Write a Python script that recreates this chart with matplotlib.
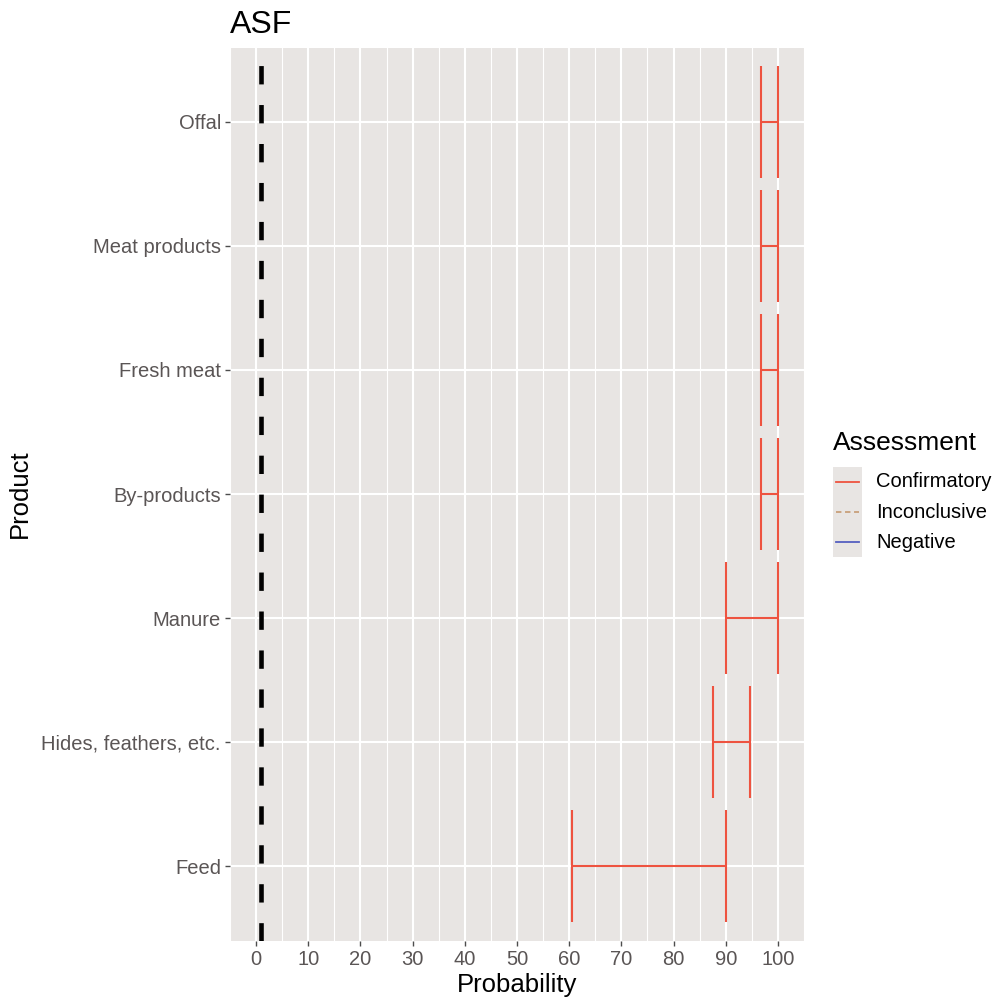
import matplotlib
matplotlib.use("Agg")
import matplotlib.pyplot as plt
from matplotlib.lines import Line2D
from matplotlib.patches import Rectangle

plt.rcParams['font.family'] = ['Liberation Sans', 'DejaVu Sans']

# data
products = ["Feed", "Hides, feathers, etc.", "Manure", "By-products",
            "Fresh meat", "Meat products", "Offal"]
lower = [60.5, 87.5, 90, 96.8, 96.8, 96.8, 96.8]
upper = [90, 94.6, 100, 100, 100, 100, 100]
assessment = ["Confirmatory"] * 7
threshold = 1

levels = ["Confirmatory", "Inconclusive", "Negative"]
colors = {"Confirmatory": "#EE5340", "Inconclusive": "#C8A07A", "Negative": "#5560C0"}
styles = {"Confirmatory": "-", "Inconclusive": (0, (3, 2)), "Negative": "-"}

W, H = 993, 998
fig = plt.figure(figsize=(W / 100, H / 100), dpi=100)
ax = fig.add_axes([0.2316, 0.0576, 0.8097 - 0.2316, 0.9524 - 0.0576])
panel = "#E8E5E3"
ax.set_facecolor(panel)

ypos = list(range(1, len(products) + 1))

# grid
for x in range(-5, 106, 10):
    ax.axvline(x, color="white", lw=0.8, zorder=0)
for x in range(0, 101, 10):
    ax.axvline(x, color="white", lw=1.5, zorder=0)
for y in ypos:
    ax.axhline(y, color="white", lw=1.5, zorder=0)

# error bars
h = 0.9
for y, lo, hi, a in zip(ypos, lower, upper, assessment):
    c = colors[a]
    ax.hlines(y, lo, hi, color=c, lw=1.5, zorder=2)
    ax.vlines([lo, hi], y - h / 2, y + h / 2, color=c, lw=1.5, zorder=2)

ax.axvline(threshold, color="black", lw=3.3, linestyle=(0, (4, 4.5)), zorder=3)

ax.set_xlim(-5, 105)
ax.set_ylim(0.4, len(products) + 0.6)
ax.set_xticks(range(0, 101, 10))
ax.set_yticks(ypos)
ax.set_yticklabels(products)
for s in ax.spines.values():
    s.set_visible(False)
ax.tick_params(axis="both", labelsize=14.5, labelcolor="#5a5555", color="#4d4d4d",
               length=3.5, width=1, pad=3)

fig.text(0.2316, 0.967, "ASF", fontsize=23, ha="left", va="baseline")
fig.text(0.5207, 0.006, "Probability", fontsize=18.5, ha="center", va="baseline")
fig.text(0.0205, 0.505, "Product", fontsize=18.5, ha="center", va="center", rotation=90)

# legend, ggplot style with grey key background
def fx(px):
    return px / W

def fy(py):
    return 1 - py / H

fig.text(fx(833), fy(443), "Assessment", fontsize=19, ha="left", va="center")
fig.add_artist(Rectangle((fx(833), fy(557)), fx(862) - fx(833), fy(467) - fy(557),
                         transform=fig.transFigure, facecolor=panel, edgecolor="none"))
rows = [482, 512, 542]
for lvl, ry in zip(levels, rows):
    fig.add_artist(Line2D([fx(836), fx(859)], [fy(ry), fy(ry)], transform=fig.transFigure,
                          color=colors[lvl], linestyle=styles[lvl], lw=1.3))
    fig.text(fx(876), fy(ry), lvl, fontsize=14.5, ha="left", va="center")

fig.savefig("out.png", dpi=100)
